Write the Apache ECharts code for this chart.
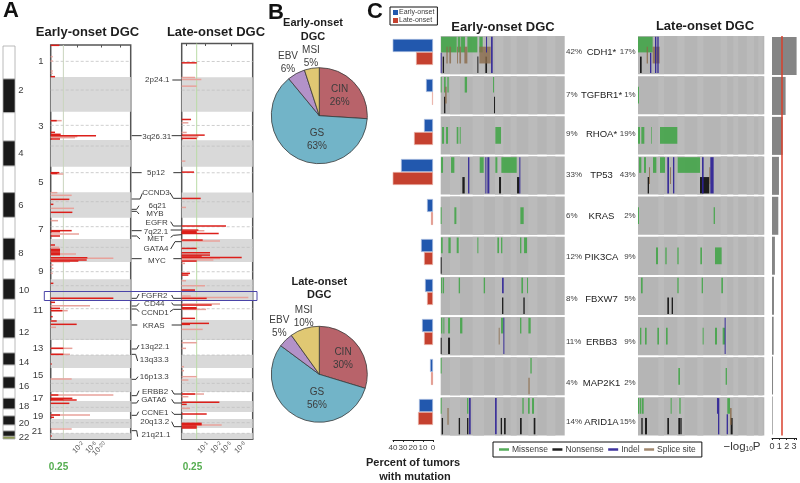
<!DOCTYPE html>
<html><head><meta charset="utf-8">
<style>html,body{margin:0;padding:0;background:#fff}#c{width:800px;height:483px}</style>
<script src="https://cdn.jsdelivr.net/npm/echarts@6/dist/echarts.min.js"></script>
</head><body><div id="c"></div>
<script>
// ---------- DATA ----------
const chromEdges=[138,237,338,423,498,578,652,715,780,837,898,957,1014,1059,1095,1131,1165,1195,1227,1248,1275,1293,1309,1317];
const chromNames=['1','2','3','4','5','6','7','8','9','10','11','12','13','14','15','16','17','18','19','20','21','22'];
const grayBands=[[231,335],[420,500],[577,653],[717,786],[838,900],[960,1020],[1065,1104],[1135,1176],[1203,1236],[1257,1284],[1300,1317]];
const centromeres=[184,270,376,438,518,605,680,742,815,857,926,1018,1065,1150,1175,1222,1268,1300];
const earlyDark=[[136,178],[230,165],[362,170],[397,165],[403,182],[407,288],[417,180],[518,178],[520,172],[598,208],[613,160],[637,217],[692,215],[695,180],[708,180],[735,165],[748,180],[752,180],[756,180],[760,180],[764,180],[773,262],[780,260],[783,235],[850,160],[895,340],[907,165],[925,180],[932,187],[950,158],[963,170],[973,230],[1045,190],[1063,190],[1092,155],[1185,175],[1195,217],[1198,190],[1200,230],[1210,208],[1245,180],[1252,162],[1308,155]];
const earlyLight=[[170,158],[183,158],[213,158],[220,158],[362,185],[410,232],[413,225],[522,190],[578,172],[586,215],[625,222],[662,174],[702,237],[742,178],[762,228],[775,340],[785,210],[795,160],[805,160],[820,158],[917,270],[932,203],[982,168],[1045,217],[1063,210],[1137,215],[1185,340],[1245,270],[1287,215]];
const lateDark=[[188,590],[358,573],[405,614],[415,590],[516,582],[595,602],[678,678],[690,595],[695,590],[698,590],[700,656],[720,608],[745,590],[758,630],[765,630],[768,605],[772,725],[783,590],[820,570],[825,565],[870,585],[895,620],[915,635],[923,590],[926,590],[955,585],[970,627],[973,570],[1182,585],[1207,658],[1213,560],[1242,620],[1270,605],[1274,605],[1278,590],[1281,590],[1284,590]];
const lateLight=[[232,585],[238,604],[258,590],[368,565],[397,560],[410,595],[483,556],[622,558],[692,613],[723,660],[775,660],[780,640],[790,555],[842,558],[857,615],[888,572],[892,745],[912,660],[928,618],[988,608],[1028,590],[1045,558],[1100,552],[1112,552],[1130,590],[1140,565],[1182,612],[1190,565],[1225,570],[1275,665]];
const earlyThreshold=190, lateThreshold=590;
const earlyTicks=[240,279,306], earlyTickText=['-2','-6','-20'], earlyTopTicks=[233,305,360];
const lateTicks=[615,654,684,726], lateTickText=['-1','-2','-5','-8'], lateTopTicks=[558,617,693];

const cytobands=['2p24.1','3q26.31','5p12','CCND3','6q21','MYB','EGFR','7q22.1','MET','GATA4','MYC','FGFR2','CD44','CCND1','KRAS','13q22.1','13q33.3','16p13.3','ERBB2','GATA6','CCNE1','20q13.2','21q21.1'];

const subtypes=['CIN','GS','EBV','MSI'];
const earlySubtypePct=[26,63,6,5];
const lateSubtypePct=[30,56,5,10];

const genes=['CDH1*','TGFBR1*','RHOA*','TP53','KRAS','PIK3CA','FBXW7','ERBB3','MAP2K1','ARID1A'];
const earlyPct=[42,7,9,33,6,12,8,11,4,14];
const latePct=[17,1,19,43,2,9,5,9,2,15];
const earlyBarValues=[41,7,9,32,6,12,8,11,3,14];
const lateBarValues=[17,1,19,41,2,9,6,9,2,15];
const logP=[3.36,1.86,1.45,0.95,0.86,0.4,0.27,0.23,0.14,0.09];
const logPTicks=['0','1','2','3'];
const pThreshold=1.3;

// [row, start, end, lane]
const earlyMissense=[[0,243,290,0],[0,293,301,0],[0,303,315,0],[0,322,352,0],[0,358,368,0],
[1,242,245,0],[1,252,257,0],[1,262,266,0],[1,314,321,0],[1,399,402,0],
[2,246,252,1],[2,258,264,1],[2,290,295,1],[2,299,302,1],[2,406,423,1],
[3,243,249,0],[3,273,283,0],[3,359,371,0],[3,406,412,0],[3,424,470,0],
[4,242,245,1],[4,283,289,1],[4,481,491,1],
[5,243,248,0],[5,265,272,0],[5,290,296,0],[5,352,355,0],[5,412,417,0],[5,423,427,0],[5,480,484,0],[5,492,501,0],
[6,243,246,0],[6,248,252,0],[6,296,300,0],[6,371,375,0],[6,484,489,0],[6,501,504,0],
[7,243,247,0],[7,250,253,0],[7,264,270,0],[7,300,307,0],[7,423,430,0],[7,480,484,0],[7,505,512,0],
[8,242,245,0],[8,511,515,0],
[9,242,245,0],[9,321,325,0],[9,487,491,0],[9,504,509,0],[9,516,522,0]];
const earlyNonsense=[[0,248,252,2],[0,352,355,2],[0,376,381,2],
[1,252,256,2],[1,402,405,2],
[3,307,314,2],[3,417,423,2],[3,471,478,2],
[5,242,245,2],
[6,426,430,2],[6,490,494,2],
[7,242,245,2],[7,264,270,2],
[9,245,249,2],[9,296,300,2],[9,321,325,2],[9,422,426,2],[9,432,437,2],[9,480,485,2],[9,521,526,2]];
const earlyIndel=[[0,242,245,4],[0,378,381,0],[0,393,398,3],
[3,324,328,3],[3,376,379,3],[3,382,388,3],[3,478,481,3],
[6,426,431,0],
[7,430,433,3],
[9,327,332,3],[9,405,410,3]];
const earlySplice=[[0,259,263,1],[0,268,273,1],[0,291,294,1],[0,298,303,1],[0,313,322,1],[0,358,392,1],
[1,255,260,1],[7,416,419,1],[8,505,509,2],[9,262,266,1]];

const lateMissense=[[0,144,188,0],
[1,144,147,1],
[2,144,150,1],[2,154,163,1],[2,184,186,1],[2,210,262,1],
[3,147,154,0],[3,162,168,0],[3,189,199,0],[3,210,225,0],[3,263,330,0],
[4,144,147,1],[4,371,375,1],
[5,198,204,1],[5,226,230,1],[5,262,266,1],[5,331,336,1],[5,375,395,1],
[6,153,158,0],[6,262,266,0],[6,335,339,0],[6,394,399,0],
[7,150,154,1],[7,165,170,1],[7,202,207,1],[7,228,233,1],[7,338,341,1],[7,375,381,1],[7,398,405,1],
[8,265,270,1],[8,407,411,1],
[9,144,148,0],[9,150,154,0],[9,156,161,0],[9,242,245,0],[9,268,272,0],[9,412,420,0]];
const lateNonsense=[[0,150,155,2],
[3,173,177,2],[3,330,358,2],
[6,232,237,2],[6,245,249,2],
[9,154,158,2],[9,165,171,2],[9,232,237,2],[9,265,270,2],[9,271,275,2],[9,422,428,2]];
const lateIndel=[[0,180,184,4],[0,195,199,3],[0,202,206,3],
[3,232,237,3],[3,249,253,3],[3,336,341,3],[3,361,371,3],
[7,404,407,3],
[9,381,384,0],[9,384,388,3],[9,410,414,4]];
const lateSplice=[[0,170,174,1],[0,188,209,1],[3,177,180,1],[3,240,243,1],[3,358,361,1],[9,420,425,1]];

// lighter patient columns in the track background
const earlyColumns=[[270,300],[338,372],[405,430],[452,470],[505,532],[560,586]];
const lateColumns=[[205,222],[262,284],[322,340],[392,412],[430,445],[470,492],[505,518]];

// ---------- LAYOUT (not data) ----------
const FONT='"Liberation Sans",Arial,sans-serif';
const TXT='#3c3c3c';
const laneRange=[[.02,.43],[.28,.72],[.54,.97],[.02,.97],[.44,.97]];
const ROW=.95;
const chromLabelPos=[[41,61],[21,90],[41,126],[21,153],[41,182],[21,205],[41,229],[21,253],[41,271],[24,290],[38,310],[24,332],[38,348],[24,362],[38,375],[24,386],[38,398],[24,406],[38,416],[24,423],[37,431],[24,437]];
const cytoPos=[[472,240],[470,410],[468,518],[468,578],[472,617],[465,642],[470,668],[468,695],[467,717],[468,747],[471,781],[463,888],[463,910],[465,938],[461,977],[465,1040],[463,1080],[463,1129],[465,1175],[461,1200],[465,1237],[464,1265],[468,1305]];
const connectors=[
[[517,240],[545,240]],[[395,407],[425,407]],[[515,407],[545,407]],[[395,518],[425,518]],[[520,518],[545,518]],
[[395,597],[420,597],[427,580]],[[510,578],[520,595],[545,595]],[[395,628],[410,628],[417,617]],[[395,634],[410,634],[417,642]],
[[512,665],[520,678],[545,678]],[[395,692],[425,692]],[[512,690],[545,690]],[[395,708],[410,708],[420,717]],[[512,712],[520,706],[545,704]],
[[512,747],[525,725],[545,725]],[[395,776],[425,776]],[[520,776],[545,776]],[[395,895],[410,895],[417,882]],[[515,885],[520,895],[545,895]],
[[395,918],[410,918],[417,910]],[[515,908],[520,915],[545,915]],[[395,927],[410,927],[417,935]],[[510,935],[520,928],[545,928]],
[[395,975],[412,975]],[[515,975],[545,975]],[[395,1047],[410,1047],[417,1035]],[[395,1063],[407,1063],[413,1083]],[[395,1138],[408,1138],[414,1130]],
[[395,1187],[410,1187],[417,1172]],[[515,1170],[522,1182],[545,1182]],[[395,1209],[410,1209],[416,1200]],[[515,1198],[522,1209],[545,1209]],
[[395,1246],[410,1246],[416,1235]],[[515,1235],[522,1243],[545,1243]],[[515,1265],[522,1280],[545,1280]],[[395,1292],[410,1292],[413,1310]]];
const geneLabelY=[52,95,134,175,216,257,299,342,383,422];
const geneCenterX=601.5;

// ---------- HELPERS ----------
function text(t,x,y,o){o=o||{};return {type:'text',silent:true,z:50,style:{x:x,y:y,text:t,fontFamily:FONT,fontSize:o.size||9,fontWeight:o.bold?'bold':'normal',fill:o.color||TXT,align:o.align||'center',verticalAlign:'middle',rich:o.rich}};}
function custom(grid,data,render,extra){return Object.assign({type:'custom',xAxisIndex:grid,yAxisIndex:grid,data:data,renderItem:render,silent:true,animation:false,clip:false,encode:{x:0,y:1}},extra||{});}

function renderChrom(p,api){
  const cs=p.coordSys,a=api.coord([0,api.value(0)]),b=api.coord([0,api.value(1)]);
  const fill=p.dataIndex===22?'#8f9a55':(p.dataIndex%2?'#1a1a1a':'#ffffff');
  return {type:'rect',shape:{x:cs.x,y:a[1],width:cs.width,height:b[1]-a[1]},style:{fill:fill,stroke:'#a8a8a8',lineWidth:.8}};
}
function renderBand(p,api){
  const cs=p.coordSys,a=api.coord([0,api.value(0)]),b=api.coord([0,api.value(1)]);
  return {type:'rect',shape:{x:cs.x,y:a[1],width:cs.width,height:b[1]-a[1]},style:{fill:'#d9d9d9'}};
}
function renderDash(p,api){
  const cs=p.coordSys,a=api.coord([0,api.value(0)]);
  return {type:'line',shape:{x1:cs.x,y1:a[1],x2:cs.x+cs.width,y2:a[1]},style:{stroke:'#c2c2c2',lineWidth:.8,lineDash:[3,2]}};
}
function renderPeak(p,api){
  const cs=p.coordSys,a=api.coord([api.value(1),api.value(0)]);
  return {type:'line',shape:{x1:cs.x,y1:a[1],x2:a[0],y2:a[1]},style:{stroke:api.visual('color'),lineWidth:1.5,fill:null}};
}
function renderThreshold(p,api){
  const cs=p.coordSys,a=api.coord([api.value(0),0]);
  return {type:'line',shape:{x1:a[0],y1:cs.y,x2:a[0],y2:cs.y+cs.height},style:{stroke:api.visual('color'),lineWidth:1}};
}
function renderTickLabel(txt){return function(p,api){
  const cs=p.coordSys,a=api.coord([api.value(0),0]);
  return {type:'text',x:a[0]+3,y:cs.y+cs.height+4,rotation:Math.PI/4,
    style:{text:'{b|10}{s|'+txt[p.dataIndex]+'}',align:'right',verticalAlign:'middle',fontFamily:FONT,rich:tickRich}};
};}
function renderTrackBg(cols,xMin,xMax){return function(p,api){
  const r=api.value(0),a=api.coord([xMin,r]),b=api.coord([xMax,r+ROW]);
  const kids=[{type:'rect',shape:{x:a[0],y:a[1],width:b[0]-a[0],height:b[1]-a[1]},style:{fill:'#b5b5b5'}}];
  cols.forEach(c=>{const u=api.coord([c[0],r]),v=api.coord([c[1],r]);kids.push({type:'rect',shape:{x:u[0],y:a[1],width:v[0]-u[0],height:b[1]-a[1]},style:{fill:'#bbbbbb'}});});
  return {type:'group',children:kids};
};}
function renderMut(p,api){
  const r=api.value(0),l=laneRange[api.value(3)];
  const a=api.coord([api.value(1),r+l[0]*ROW]),b=api.coord([api.value(2),r+l[1]*ROW]);
  return {type:'rect',shape:{x:a[0],y:a[1],width:b[0]-a[0],height:b[1]-a[1]},style:api.style()};
}
const mutEnc={encode:{x:[1,2],y:0}};
function mutSeries(grid,name,data,color,op){return custom(grid,data,renderMut,Object.assign({name:name,itemStyle:{color:color,opacity:op}},mutEnc));}

function pie(name,vals,cy,pos){return {type:'pie',name:name,center:[319.3,cy],radius:[0,48],startAngle:90,clockwise:true,animation:false,silent:true,
  color:['#b8636a','#72b4c8','#b392c8','#e0c873'],
  itemStyle:{borderColor:'#3a3a3a',borderWidth:.8},
  label:{show:true,position:'inside',formatter:p=>p.name+'\n'+p.value+'%',fontSize:10,lineHeight:13,color:TXT,fontFamily:FONT},
  labelLine:{show:false},
  labelLayout:p=>({x:pos[p.dataIndex][0],y:pos[p.dataIndex][1],align:'center',verticalAlign:'middle'}),
  data:subtypes.map((s,i)=>({name:s,value:vals[i]}))};}

// ---------- AXES ----------
const tickRich={b:{fontSize:7.5,fill:'#555',fontFamily:FONT},s:{fontSize:5.5,fill:'#555',verticalAlign:'top',fontFamily:FONT}};
function peakX(min,max,grid,ticks){return {type:'value',gridIndex:grid,min:min,max:max,position:'bottom',splitLine:{show:false},
  axisLine:{show:true,lineStyle:{color:'#555',width:1.5}},
  axisTick:{show:true,inside:true,length:2.5,customValues:ticks,lineStyle:{color:'#555'}},
  axisLabel:{show:false}};}

const grids=[
 {left:3,top:46,width:12,height:393},
 {left:50.7,top:45,width:80,height:394,show:true,borderColor:'#555',borderWidth:1.5,backgroundColor:'#fff'},
 {left:181.7,top:43.5,width:71,height:395.5,show:true,borderColor:'#555',borderWidth:1.5,backgroundColor:'#fff'},
 {left:393,top:32,width:40,height:400},
 {left:440.7,top:36,width:124,height:399.5},
 {left:638,top:36,width:126.3,height:399.5},
 {left:772,top:36,width:24.6,height:399.5}
];
const xAxes=[
 {type:'value',gridIndex:0,min:0,max:1,show:false},
 peakX(152,392,1,earlyTicks),
 peakX(545,758,2,lateTicks),
 {type:'value',gridIndex:3,min:0,max:40,interval:10,inverse:true,position:'bottom',offset:8,splitLine:{show:false},
  axisLine:{show:true,lineStyle:{color:'#222'}},axisTick:{show:true,length:2,lineStyle:{color:'#222'}},axisLabel:{fontSize:8,color:TXT,margin:4,fontFamily:FONT}},
 {type:'value',gridIndex:4,min:242,max:614,show:false},
 {type:'value',gridIndex:5,min:144,max:523,show:false},
 {type:'value',gridIndex:6,min:0,max:3.36,interval:1,position:'bottom',offset:2.5,splitLine:{show:false},
  axisLine:{show:true,lineStyle:{color:'#222'}},axisTick:{show:true,length:2,lineStyle:{color:'#222'}},
  axisLabel:{fontSize:9,color:TXT,margin:4,fontFamily:FONT,formatter:v=>logPTicks[v]}},
 // top ticks of the two GISTIC panels
 {type:'value',gridIndex:1,min:152,max:392,position:'top',splitLine:{show:false},axisLine:{show:false},axisLabel:{show:false},axisTick:{show:true,inside:true,length:2.5,customValues:earlyTopTicks,lineStyle:{color:'#555'}}},
 {type:'value',gridIndex:2,min:545,max:758,position:'top',splitLine:{show:false},axisLine:{show:false},axisLabel:{show:false},axisTick:{show:true,inside:true,length:2.5,customValues:lateTopTicks,lineStyle:{color:'#555'}}}
];
const yAxes=[
 {type:'value',gridIndex:0,min:138,max:1317,inverse:true,show:false},
 {type:'value',gridIndex:1,min:135,max:1317,inverse:true,show:false},
 {type:'value',gridIndex:2,min:130,max:1317,inverse:true,show:false},
 {type:'category',gridIndex:3,data:genes,inverse:true,show:false},
 {type:'value',gridIndex:4,min:0,max:9.95,inverse:true,show:false},
 {type:'value',gridIndex:5,min:0,max:9.95,inverse:true,show:false},
 {type:'category',gridIndex:6,data:genes,inverse:true,axisLine:{show:false},axisTick:{show:false},axisLabel:{show:false}}
];

// ---------- SERIES ----------
const rows=genes.map((g,i)=>[i]);
const DARK='#dc1f1a',LIGHT='#e8a29b';
const series=[
 custom(0,chromEdges.slice(0,-1).map((e,i)=>[e,chromEdges[i+1]]),renderChrom,{encode:{y:[0,1]}}),
 custom(1,grayBands,renderBand,{encode:{y:[0,1]}}),
 custom(2,grayBands,renderBand,{encode:{y:[0,1]}}),
 custom(1,centromeres.map(v=>[v]),renderDash,{encode:{y:0}}),
 custom(2,centromeres.map(v=>[v]),renderDash,{encode:{y:0}}),
 custom(1,[[earlyThreshold]],renderThreshold,{encode:{x:0},itemStyle:{color:'#c9d4bd'}}),
 custom(2,[[lateThreshold]],renderThreshold,{encode:{x:0},itemStyle:{color:'#b9dca6'}}),
 custom(1,earlyLight,renderPeak,{encode:{y:0,x:1},itemStyle:{color:LIGHT}}),
 custom(1,earlyDark,renderPeak,{encode:{y:0,x:1},itemStyle:{color:DARK}}),
 custom(2,lateLight,renderPeak,{encode:{y:0,x:1},itemStyle:{color:LIGHT}}),
 custom(2,lateDark,renderPeak,{encode:{y:0,x:1},itemStyle:{color:DARK}}),
 custom(1,earlyTicks.map(v=>[v]),renderTickLabel(earlyTickText),{encode:{x:0}}),
 custom(2,lateTicks.map(v=>[v]),renderTickLabel(lateTickText),{encode:{x:0}}),
 pie('Early-onset DGC',earlySubtypePct,115.7,[[339.7,95.7],[317,140],[288,62.7],[311,57]]),
 pie('Late-onset DGC',lateSubtypePct,374.3,[[343,358.3],[317,399],[279.3,327],[303.7,316.7]]),
 {type:'bar',name:'Early-onset',xAxisIndex:3,yAxisIndex:3,data:earlyBarValues,barWidth:13,barGap:0,animation:false,silent:true,itemStyle:{color:'#2258ae',borderColor:'#a9bde0',borderWidth:.7}},
 {type:'bar',name:'Late-onset',xAxisIndex:3,yAxisIndex:3,data:lateBarValues,barWidth:13,barGap:0,animation:false,silent:true,itemStyle:{color:'#c5412f',borderColor:'#eab5ab',borderWidth:.7}},
 custom(4,rows,renderTrackBg(earlyColumns,242,614),{encode:{y:0}}),
 custom(5,rows,renderTrackBg(lateColumns,144,523),{encode:{y:0}}),
 mutSeries(4,'Missense',earlyMissense,'#46a54c',.92),
 mutSeries(5,'Missense',lateMissense,'#46a54c',.92),
 mutSeries(4,'Nonsense',earlyNonsense,'#141414',.95),
 mutSeries(5,'Nonsense',lateNonsense,'#141414',.95),
 mutSeries(4,'Splice site',earlySplice,'#8a6a4a',.8),
 mutSeries(5,'Splice site',lateSplice,'#8a6a4a',.8),
 mutSeries(4,'Indel',earlyIndel,'#2e2296',.92),
 mutSeries(5,'Indel',lateIndel,'#2e2296',.92),
 {type:'bar',name:'-log10P',xAxisIndex:6,yAxisIndex:6,data:logP,barWidth:38,animation:false,silent:true,itemStyle:{color:'#858585'},
  markLine:{silent:true,symbol:'none',animation:false,label:{show:false},lineStyle:{color:'#d8402c',width:1.5,type:'solid'},data:[{xAxis:pThreshold}]}}
];

// ---------- GRAPHIC ----------
const graphic=[];
[['A',3,11],['B',268,13],['C',367,12]].forEach(d=>graphic.push(text(d[0],d[1],d[2],{size:22,bold:true,color:'#111',align:'left'})));
[['Early-onset DGC',87.5,32],['Late-onset DGC',216,32],['Early-onset DGC',503,27],['Late-onset DGC',705,26]].forEach(d=>graphic.push(text(d[0],d[1],d[2],{size:13,bold:true,color:'#1d1d1d'})));
[['Early-onset',313,23],['DGC',313,37],['Late-onset',319.3,282],['DGC',319.3,295]].forEach(d=>graphic.push(text(d[0],d[1],d[2],{size:11,bold:true,color:'#1d1d1d'})));
chromNames.forEach((n,i)=>graphic.push(text(n,chromLabelPos[i][0],chromLabelPos[i][1],{size:9.5})));
cytobands.forEach((n,i)=>graphic.push(text(n,cytoPos[i][0]/3,cytoPos[i][1]/3,{size:8})));
connectors.forEach(c=>graphic.push({type:'polyline',silent:true,z:40,shape:{points:c.map(p=>[p[0]/3,p[1]/3])},style:{stroke:'#333',lineWidth:1,fill:null}}));
graphic.push({type:'rect',silent:true,z:45,shape:{x:44.3,y:291.5,width:212.7,height:9},style:{fill:null,stroke:'#4a44a8',lineWidth:1}});
graphic.push(text('0.25',58.5,467,{size:10,bold:true,color:'#55ad50'}));
graphic.push(text('0.25',192.5,467,{size:10,bold:true,color:'#55ad50'}));
genes.forEach((g,i)=>{
  const y=geneLabelY[i];
  graphic.push(text(earlyPct[i]+'%',566,y,{size:8,align:'left'}));
  graphic.push(text(g,geneCenterX,y,{size:9.5,color:'#222'}));
  graphic.push(text(latePct[i]+'%',635.7,y,{size:8,align:'right'}));
});
graphic.push(text('Percent of tumors',413,463,{size:11,bold:true,color:'#222'}));
graphic.push(text('with mutation',415,477,{size:11,bold:true,color:'#222'}));
graphic.push(text('{a|−log}{b|10}{a|P}',742,447,{rich:{a:{fontSize:11.5,fill:'#333',fontFamily:FONT},b:{fontSize:6.5,fill:'#333',verticalAlign:'bottom',fontFamily:FONT}}}));

// ---------- CHART ----------
const chart=echarts.init(document.getElementById('c'),null,{renderer:'canvas'});
chart.setOption({
 animation:false,backgroundColor:'#fff',textStyle:{fontFamily:FONT},
 grid:grids,xAxis:xAxes,yAxis:yAxes,series:series,graphic:graphic,
 legend:[
  {data:['Early-onset','Late-onset'],left:390,top:7,orient:'vertical',padding:[2,3,1,3],itemWidth:5,itemHeight:5,itemGap:1,icon:'rect',selectedMode:false,borderColor:'#111',borderWidth:1,
   itemStyle:{borderWidth:0},textStyle:{fontSize:7,color:TXT,padding:[0,0,0,-4]}},
  {data:['Missense','Nonsense','Indel','Splice site'],left:493,top:442,orient:'horizontal',padding:[3,6],itemWidth:10,itemHeight:2.5,itemGap:4.5,icon:'rect',selectedMode:false,borderColor:'#111',borderWidth:1,
   textStyle:{fontSize:8.5,color:TXT,padding:[0,0,0,-2]}}
 ]
});
</script></body></html>
